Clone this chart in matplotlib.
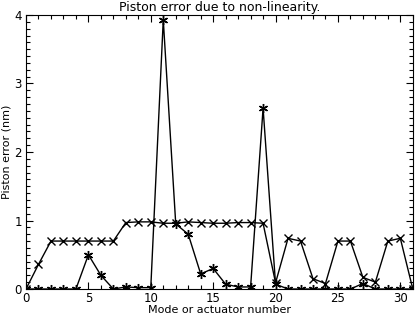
import numpy as np
import matplotlib
matplotlib.use('Agg')
import matplotlib.pyplot as plt
from matplotlib.ticker import MultipleLocator

# -- datos
modo = np.arange(32)
error_x = [0.00, 0.36, 0.70, 0.70, 0.70, 0.70, 0.70, 0.70, 0.97, 0.98, 0.98, 0.96,
           0.96, 0.98, 0.97, 0.96, 0.96, 0.97, 0.97, 0.96, 0.09, 0.74, 0.70, 0.15,
           0.08, 0.70, 0.70, 0.17, 0.10, 0.70, 0.74, 0.00]
error_ast = [0.00, 0.00, 0.00, 0.00, 0.00, 0.50, 0.20, 0.00, 0.03, 0.02, 0.02, 3.93,
             0.95, 0.80, 0.22, 0.30, 0.07, 0.03, 0.03, 2.64, 0.07, 0.00, 0.00, 0.00,
             0.00, 0.00, 0.00, 0.08, 0.00, 0.00, 0.00, 0.00]

fig = plt.figure(figsize=(4.15, 3.17), dpi=100)
ax = fig.add_axes([0.0627, 0.0883, 0.932, 0.8644])

ax.plot(modo, error_x, color='black', lw=1, marker='x', ms=5.5, mew=1)
ax.plot(modo, error_ast, color='black', lw=1, marker=(6, 2, 0), ms=6.5, mew=1)

ax.set_xlim(0, 31); ax.set_ylim(0, 4)
ax.xaxis.set_major_locator(MultipleLocator(5)); ax.xaxis.set_minor_locator(MultipleLocator(1))
ax.yaxis.set_major_locator(MultipleLocator(1)); ax.yaxis.set_minor_locator(MultipleLocator(0.1))
ax.tick_params(which='both', direction='in', top=True, right=True, labelsize=8.5, width=0.8)
ax.tick_params(axis='x', pad=2); ax.tick_params(axis='y', pad=3)
ax.tick_params(which='major', length=5); ax.tick_params(which='minor', length=3)
for s in ax.spines.values():
    s.set_linewidth(0.8)

ax.set_title('Piston error due to non-linearity.', fontsize=9, pad=3)
ax.set_xlabel('Mode or actuator number', fontsize=8, labelpad=0)
ax.set_ylabel('Piston error (nm)', fontsize=8, labelpad=2)

fig.savefig('out.png', dpi=100)
